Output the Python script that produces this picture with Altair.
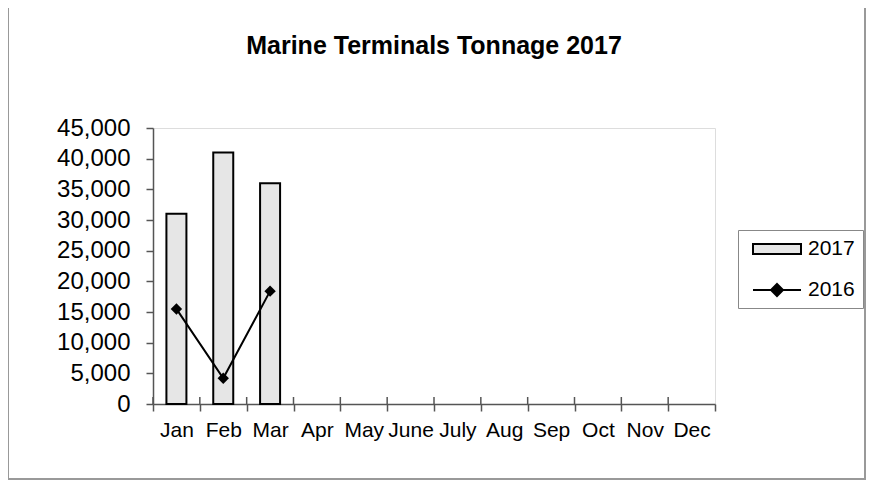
import altair as alt
import pandas as pd

months = ["Jan", "Feb", "Mar", "Apr", "May", "June", "July", "Aug", "Sep", "Oct", "Nov", "Dec"]
bar_months = ["Jan", "Feb", "Mar"]
t2017 = [31000, 41000, 36000]
t2016 = [15500, 4200, 18400]
series = ["2017", "2016"]
y_ticks = [0, 5000, 10000, 15000, 20000, 25000, 30000, 35000, 40000, 45000]

df = pd.DataFrame({"month": bar_months, "t2017": t2017, "t2016": t2016})
ticks_df = pd.DataFrame({"month": months})
legend_df = pd.DataFrame({"series": series})

W, H = 562, 276
x_scale = alt.Scale(domain=months, paddingInner=0, paddingOuter=0)
y_scale = alt.Scale(domain=[0, 45000], nice=False)

rect_path = "M-2.4,-0.5H2.4V0.5H-2.4Z"
line_path = "M-2.4,0H2.4M0,-0.6L0.6,0L0,0.6L-0.6,0Z"

x_axis = alt.Axis(title=None, labelAngle=0, tickBand="extent", tickSize=7,
                  labelPadding=8, labelFontSize=21, labelFont="Liberation Sans",
                  labelColor="black", domainColor="#555", tickColor="#555",
                  labelOverlap=False, domainWidth=1.5, tickWidth=1.5)
y_axis = alt.Axis(title=None, values=y_ticks, format=",.0f", tickSize=7, labelPadding=16,
                  labelFontSize=24, labelFont="Liberation Sans", labelColor="black",
                  grid=False, domainColor="#555", tickColor="#555",
                  domainWidth=1.5, tickWidth=1.5)

bars = alt.Chart(df).mark_bar(size=20, fill="#e6e6e6", stroke="black", strokeWidth=2).encode(
    x=alt.X("month:N", scale=x_scale, sort=months, axis=x_axis),
    y=alt.Y("t2017:Q", scale=y_scale, axis=y_axis),
)

line = alt.Chart(df).mark_line(color="black", strokeWidth=2).encode(
    x=alt.X("month:N", scale=x_scale, sort=months, axis=x_axis),
    y=alt.Y("t2016:Q", scale=y_scale, axis=y_axis),
)
pts = alt.Chart(df).mark_point(shape="diamond", filled=True, color="black", size=130, opacity=1).encode(
    x=alt.X("month:N", scale=x_scale, sort=months, axis=x_axis),
    y=alt.Y("t2016:Q", scale=y_scale, axis=y_axis),
)

up_ticks = alt.Chart(ticks_df).transform_calculate(zero="0").mark_rule(
    color="#555", strokeWidth=1.5, y2Offset=-7).encode(
    x=alt.X("month:N", scale=x_scale, sort=months, axis=x_axis, bandPosition=0),
    y=alt.Y("zero:Q", scale=y_scale, axis=y_axis),
    y2=alt.Y2("zero:Q"),
)

leg = alt.Legend(orient="none", legendX=585, legendY=102, title=None, symbolSize=400,
                 symbolStrokeWidth=2, symbolStrokeColor="black", symbolOpacity=1,
                 labelFontSize=21, labelFont="Liberation Sans", labelColor="black",
                 padding=8, rowPadding=20, symbolOffset=20, strokeColor="#888",
                 labelOffset=20, labelExpr="datum.label + '\u00a0\u00a0\u00a0'")

legend_layer = alt.Chart(legend_df).transform_filter("false").mark_point(
    filled=False, strokeWidth=2, opacity=1).encode(
    shape=alt.Shape("series:N", scale=alt.Scale(domain=series, range=[rect_path, line_path]), legend=leg),
    fill=alt.Fill("series:N", scale=alt.Scale(domain=series, range=["#e6e6e6", "black"]), legend=leg),
    stroke=alt.Stroke("series:N", scale=alt.Scale(domain=series, range=["black", "black"]), legend=leg),
)

frame = alt.Chart(pd.DataFrame({"a": [0]})).mark_rect(
    fillOpacity=0, stroke="#999", strokeWidth=2).encode(
    x=alt.value(-145), x2=alt.value(W + 150), y=alt.value(-121), y2=alt.value(H + 75),
)

chart = alt.layer(frame, bars, up_ticks, line, pts, legend_layer).properties(
    width=W, height=H,
    title=alt.TitleParams("Marine Terminals Tonnage 2017", fontSize=25, fontWeight="bold",
                          font="Liberation Sans", anchor="middle", frame="group",
                          baseline="alphabetic", offset=-73, color="black"),
    padding={"left": 145, "top": 120, "right": 152, "bottom": 77},
    autosize="none",
).configure_view(stroke="#888", strokeWidth=1.5).configure(background="white")

chart.save("out.html", embed_options={"renderer": "svg", "actions": False})
